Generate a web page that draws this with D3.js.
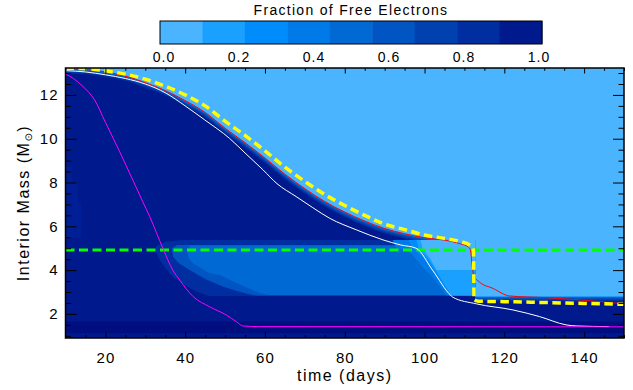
<!DOCTYPE html>
<html>
<head>
<meta charset="utf-8">
<script src="https://cdn.jsdelivr.net/npm/d3@7"></script>
<style>
  body { margin: 0; background: #fff; }
  text { font-family: "Liberation Sans", Arial, Helvetica, sans-serif; fill: #000; }
</style>
</head>
<body>
<script>
/* Size of the picture and of the plot box */
var width = 633;
var height = 390;
var plotLeft = 65.5, plotRight = 624, plotTop = 68, plotBottom = 338;

/* Colour levels of the fraction of free electrons (0.0 -> 1.0, nine bands) */
var levelColours = ["#4BB4FF", "#1AA0FF", "#008CFA", "#007AE8", "#0069D4",
                    "#0055C3", "#0041AF", "#002DA0", "#00198C"];
var coreColour = "#000E80";
var patchColour = "#001F96";
var colourbarTicks = [0, 0.2, 0.4, 0.6, 0.8, 1.0];

/* Axis ticks */
var timeTicks = [20, 40, 60, 80, 100, 120, 140];
var massTicks = [2, 4, 6, 8, 10, 12];

/* Curves: time (days) and interior mass (Msun) */
var yellowT = [10, 15, 20, 25, 30, 35, 40, 45, 50, 55, 60, 65, 70, 75, 80, 85, 90, 95, 100, 105, 109, 111.3, 112.0, 112.3, 112.4, 113.5, 120, 130, 140, 150];
var yellowM = [13.22, 13.2, 13.1, 12.95, 12.72, 12.4, 12.0, 11.5, 10.8, 10.15, 9.45, 8.7, 8.05, 7.45, 6.95, 6.5, 6.1, 5.85, 5.6, 5.45, 5.3, 5.15, 5.05, 4.85, 2.65, 2.58, 2.56, 2.52, 2.48, 2.44];

var redT = [10, 15, 20, 25, 30, 35, 40, 45, 50, 55, 60, 65, 70, 75, 80, 85, 90, 95, 100, 105, 109, 110.9, 111.5, 111.9, 112.3, 113.8, 117.1, 121.3, 130.5, 138.9, 150];
var redM = [13.2, 13.17, 13.05, 12.86, 12.56, 12.2, 11.74, 11.2, 10.48, 9.82, 9.12, 8.38, 7.72, 7.13, 6.65, 6.24, 5.9, 5.66, 5.48, 5.37, 5.2, 5.07, 4.92, 4.3, 3.78, 3.45, 3.17, 2.82, 2.74, 2.64, 2.46];

var whiteT = [10, 15, 20, 25, 30, 35, 40, 44.9, 51.1, 55, 59.5, 63, 67.8, 72, 76.2, 82.9, 89.6, 94, 97.9, 102, 106.7, 107.1, 113, 122.2, 128.8, 135.5, 138, 146.2];
var whiteM = [13.11, 13.05, 12.92, 12.75, 12.5, 12.1, 11.5, 10.86, 10.02, 9.35, 8.58, 7.95, 7.36, 6.85, 6.37, 5.84, 5.38, 5.15, 5.0, 4.0, 2.82, 2.76, 2.46, 2.18, 1.88, 1.5, 1.45, 1.42];

var magentaT = [10, 12, 14.4, 17.3, 20, 23.6, 26.9, 29.3, 31.1, 34.4, 36.9, 38.6, 42, 46.1, 50.3, 52.8, 54.5, 58.7, 150];
var magentaM = [12.96, 12.75, 12.38, 11.77, 10.75, 9.4, 8.1, 7.15, 6.45, 5.0, 4.0, 3.55, 2.79, 2.33, 1.95, 1.65, 1.45, 1.42, 1.41];

var greenT = [10, 150];
var greenM = [4.92, 4.92];

/* Lower edge of the recombined (light) region after the red line leaves it */
var frontTailT = [111.5, 112.0, 112.6, 112.8, 150];
var frontTailM = [4.92, 4.3, 3.6, 2.8, 2.8];

/* Partly recombined shell: left edges of each level, top to bottom */
var bandLevels = [7, 5, 4, 3, 2, 1, 0];
var bandEdgeT = [
  [39.4, 35, 32.8, 32.4, 33.5, 35, 37, 40, 42.8, 46],
  [38, 36.6, 37, 38.5, 41.1, 45, 49.4, 53, 56, 57.5],
  [41.1, 40.5, 41, 42, 46.1, 48.6, 53, 58.7, 61],
  [92, 93, 96, 99, 103, 105.5],
  [96, 97, 99.5, 101.5, 104.5, 106.2],
  [98, 98.5, 101, 103.5, 106.7],
  [99, 99.5, 101.5, 103]
];
var bandEdgeM = [
  [5.38, 5.3, 5.1, 4.92, 4.5, 4.1, 3.7, 3.3, 3.02, 2.82],
  [5.15, 5.0, 4.6, 4.3, 4.0, 3.6, 3.25, 3.05, 2.9, 2.84],
  [5.12, 4.8, 4.5, 4.3, 3.86, 3.78, 3.4, 2.95, 2.86],
  [5.38, 5.0, 4.9, 4.24, 3.47, 2.84],
  [5.38, 5.0, 4.6, 4.1, 3.3, 2.84],
  [5.38, 5.0, 4.5, 3.8, 2.84],
  [5.38, 5.0, 4.5, 4.0]
];
var bandRightT = 112.8;

/* Fully ionised core layer and the small patch at the inner left edge */
var coreM = [1.12, 1.65];
var patchT = [10, 11.6, 11.6, 13.1, 13.1, 14, 14, 10];
var patchM = [8.73, 8.73, 8.0, 8.0, 7.1, 7.1, 5.47, 5.47];

/* Graded edge below the recombination front: pixel offset and colour level */
var gradeOffsets = [5, 3.6, 2.3, 1, 0];
var gradeLevels = [7, 6, 5, 3, 0];

function zip(ts, ms) {
  return ts.map(function(t, i) { return {t: t, m: ms[i]}; });
}

/* Scales */
var x = d3.scaleLinear().domain([10, 150]).range([plotLeft, plotRight]);
var y = d3.scaleLinear().domain([0.9, 13.23]).range([plotBottom, plotTop]);

var svg = d3.select("body").append("svg")
  .attr("width", width)
  .attr("height", height);

svg.append("defs").append("clipPath").attr("id", "plot-clip")
  .append("rect")
  .attr("x", plotLeft).attr("y", plotTop)
  .attr("width", plotRight - plotLeft).attr("height", plotBottom - plotTop);

var plot = svg.append("g").attr("clip-path", "url(#plot-clip)");

/* Background: fully ionised */
plot.append("rect")
  .attr("x", plotLeft).attr("y", plotTop)
  .attr("width", plotRight - plotLeft).attr("height", plotBottom - plotTop)
  .attr("fill", levelColours[8]);

plot.append("rect")
  .attr("x", x(10)).attr("y", y(coreM[1]))
  .attr("width", x(150) - x(10)).attr("height", y(coreM[0]) - y(coreM[1]))
  .attr("fill", coreColour);

plot.append("path")
  .datum(zip(patchT, patchM))
  .attr("fill", patchColour)
  .attr("d", d3.line().x(function(d) { return x(d.t); }).y(function(d) { return y(d.m); }));

/* Recombined envelope above the front, with graded edge */
var edgeT = redT.filter(function(t) { return t <= 110.9; }).concat(frontTailT);
var edgeM = redM.slice(0, edgeT.length - frontTailT.length).concat(frontTailM);
var frontPts = zip(edgeT, edgeM);

gradeOffsets.forEach(function(off, i) {
  plot.append("path")
    .datum(frontPts)
    .attr("fill", levelColours[gradeLevels[i]])
    .attr("d", d3.area()
      .x(function(d) { return x(d.t); })
      .y0(plotTop - 2)
      .y1(function(d) { return y(d.m) + off; })
      .curve(d3.curveMonotoneX));
});

/* Partly recombined shell */
bandLevels.forEach(function(level, i) {
  plot.append("path")
    .datum(zip(bandEdgeT[i], bandEdgeM[i]))
    .attr("fill", levelColours[level])
    .attr("d", d3.area()
      .y(function(d) { return y(d.m); })
      .x0(function(d) { return x(d.t); })
      .x1(x(bandRightT)));
});

/* Lines */
var curveLine = d3.line()
  .x(function(d) { return x(d.t); })
  .y(function(d) { return y(d.m); })
  .curve(d3.curveMonotoneX);

plot.append("path").datum(zip(greenT, greenM))
  .attr("d", curveLine).attr("fill", "none")
  .attr("stroke", "#00FF00").attr("stroke-width", 3).attr("stroke-dasharray", "9,4.5");

plot.append("path").datum(zip(whiteT, whiteM))
  .attr("d", curveLine).attr("fill", "none")
  .attr("stroke", "#FFFFFF").attr("stroke-width", 1);

plot.append("path").datum(zip(magentaT, magentaM))
  .attr("d", curveLine).attr("fill", "none")
  .attr("stroke", "#FF00FF").attr("stroke-width", 1);

plot.append("path").datum(zip(redT, redM))
  .attr("d", curveLine).attr("fill", "none")
  .attr("stroke", "#FF0000").attr("stroke-width", 1);

plot.append("path").datum(zip(yellowT, yellowM))
  .attr("d", curveLine).attr("fill", "none")
  .attr("stroke", "#FFFF00").attr("stroke-width", 3.5).attr("stroke-dasharray", "8.5,4.5");

/* Axes: IDL style, ticks inside on all four sides */
var minorTime = d3.range(10, 151, 5).filter(function(v) { return timeTicks.indexOf(v) < 0; });
var minorMass = d3.range(1, 13.01, 0.5).filter(function(v) { return massTicks.indexOf(v) < 0; });

function styleAxis(g) {
  g.select(".domain").remove();
  g.selectAll(".tick line").attr("stroke", "#000").attr("stroke-width", 1);
  g.selectAll("text").attr("font-size", 15).attr("letter-spacing", 1).attr("fill", "#000")
    .attr("font-family", "'Liberation Sans', Arial, sans-serif");
}

svg.append("g").attr("transform", "translate(0," + plotBottom + ")")
  .call(d3.axisBottom(x).tickValues(timeTicks).tickSizeInner(-5.5).tickSizeOuter(0).tickPadding(14))
  .call(styleAxis);
svg.append("g").attr("transform", "translate(0," + plotBottom + ")")
  .call(d3.axisBottom(x).tickValues(minorTime).tickSizeInner(-2.8).tickSizeOuter(0).tickFormat(""))
  .call(styleAxis);
svg.append("g").attr("transform", "translate(0," + plotTop + ")")
  .call(d3.axisTop(x).tickValues(timeTicks).tickSizeInner(-5.5).tickSizeOuter(0).tickFormat(""))
  .call(styleAxis);
svg.append("g").attr("transform", "translate(0," + plotTop + ")")
  .call(d3.axisTop(x).tickValues(minorTime).tickSizeInner(-2.8).tickSizeOuter(0).tickFormat(""))
  .call(styleAxis);

svg.append("g").attr("transform", "translate(" + plotLeft + ",0)")
  .call(d3.axisLeft(y).tickValues(massTicks).tickSizeInner(-11).tickSizeOuter(0).tickPadding(7))
  .call(styleAxis);
svg.append("g").attr("transform", "translate(" + plotLeft + ",0)")
  .call(d3.axisLeft(y).tickValues(minorMass).tickSizeInner(-5.5).tickSizeOuter(0).tickFormat(""))
  .call(styleAxis);
svg.append("g").attr("transform", "translate(" + plotRight + ",0)")
  .call(d3.axisRight(y).tickValues(massTicks).tickSizeInner(-11).tickSizeOuter(0).tickFormat(""))
  .call(styleAxis);
svg.append("g").attr("transform", "translate(" + plotRight + ",0)")
  .call(d3.axisRight(y).tickValues(minorMass).tickSizeInner(-5.5).tickSizeOuter(0).tickFormat(""))
  .call(styleAxis);

/* Plot frame */
svg.append("rect")
  .attr("x", plotLeft).attr("y", plotTop)
  .attr("width", plotRight - plotLeft).attr("height", plotBottom - plotTop)
  .attr("fill", "none").attr("stroke", "#000").attr("stroke-width", 1.5);

/* Axis titles */
svg.append("text")
  .attr("x", (plotLeft + plotRight) / 2).attr("y", 381)
  .attr("text-anchor", "middle").attr("font-size", 16).attr("letter-spacing", 1.5)
  .text("time (days)");

var yTitle = svg.append("text")
  .attr("transform", "translate(29," + ((plotTop + plotBottom) / 2) + ") rotate(-90)")
  .attr("text-anchor", "middle").attr("font-size", 16).attr("letter-spacing", 1.5);
yTitle.append("tspan").text("Interior Mass (M");
yTitle.append("tspan").attr("font-size", 10).attr("dy", 3).attr("font-family", "'DejaVu Sans', sans-serif").text("\u2299");
yTitle.append("tspan").attr("dy", -3).text(")");

/* Colour bar */
var cbBar = d3.scaleLinear().domain([0, 1]).range([160, 542]);
var cbLabel = d3.scaleLinear().domain([0, 1]).range([164, 539]);
var cbTop = 21, cbHeight = 23;

svg.append("g").selectAll("rect")
  .data(levelColours)
  .enter()
  .append("rect")
  .attr("x", function(d, i) { return cbBar(i / levelColours.length); })
  .attr("y", cbTop)
  .attr("width", function(d, i) { return cbBar((i + 1) / levelColours.length) - cbBar(i / levelColours.length) + 0.5; })
  .attr("height", cbHeight)
  .attr("fill", function(d) { return d; });

svg.append("rect")
  .attr("x", cbBar(0)).attr("y", cbTop)
  .attr("width", cbBar(1) - cbBar(0)).attr("height", cbHeight)
  .attr("fill", "none").attr("stroke", "#000").attr("stroke-width", 1);

svg.append("g").selectAll("text")
  .data(colourbarTicks)
  .enter()
  .append("text")
  .attr("x", function(d) { return cbLabel(d); })
  .attr("y", 62)
  .attr("text-anchor", "middle")
  .attr("font-size", 14)
  .attr("letter-spacing", 1)
  .text(function(d) { return d3.format(".1f")(d); });

svg.append("text")
  .attr("x", (cbBar(0) + cbBar(1)) / 2).attr("y", 15)
  .attr("text-anchor", "middle").attr("font-size", 14).attr("letter-spacing", 1.3)
  .text("Fraction of Free Electrons");
</script>
</body>
</html>
